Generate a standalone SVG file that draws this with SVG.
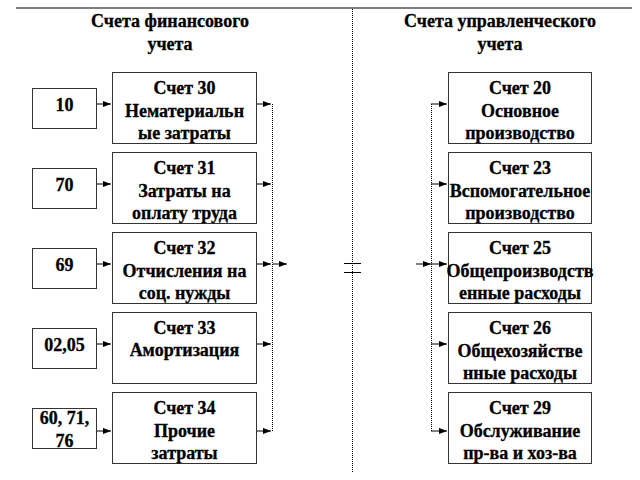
<svg xmlns="http://www.w3.org/2000/svg" width="640" height="480" viewBox="0 0 640 480">
<defs>
<style>
text{font-family:"Liberation Serif",serif;font-weight:bold;font-size:18px;text-anchor:middle;fill:#000;stroke:#000;stroke-width:0.3}
.box{fill:#fff;stroke:#333;stroke-width:1}
.ln{fill:none;stroke:#000;stroke-width:1}
.dot{fill:none;stroke:#000;stroke-width:1;stroke-dasharray:1 1}
</style>
<marker id="ah" viewBox="0 0 8 6" refX="8" refY="3" markerWidth="8" markerHeight="6" markerUnits="userSpaceOnUse" orient="auto">
<path d="M0,0 L8,3 L0,6 z" fill="#000"/>
</marker>
</defs>
<rect width="640" height="480" fill="#fff"/>
<g id="frame">
<line class="ln" x1="16" y1="8" x2="632" y2="8"/>
<line class="dot" x1="352.5" y1="9" x2="352.5" y2="472"/>
<line class="ln" x1="344" y1="263.5" x2="361" y2="263.5"/>
<line class="ln" x1="344" y1="272.5" x2="361" y2="272.5"/>
<text x="170" y="27">Счета финансового</text>
<text x="170" y="50">учета</text>
<text x="500" y="27">Счета управленческого</text>
<text x="500" y="50">учета</text>
</g>
<g id="connectors">
<line class="ln" x1="97" y1="104" x2="111" y2="104" marker-end="url(#ah)"/>
<line class="ln" x1="97" y1="184" x2="111" y2="184" marker-end="url(#ah)"/>
<line class="ln" x1="97" y1="264" x2="111" y2="264" marker-end="url(#ah)"/>
<line class="ln" x1="97" y1="344" x2="111" y2="344" marker-end="url(#ah)"/>
<line class="ln" x1="97" y1="431" x2="111" y2="431" marker-end="url(#ah)"/>
<line class="ln" x1="257" y1="104" x2="271" y2="104" marker-end="url(#ah)"/>
<line class="ln" x1="257" y1="184" x2="271" y2="184" marker-end="url(#ah)"/>
<line class="ln" x1="257" y1="264" x2="271" y2="264" marker-end="url(#ah)"/>
<line class="ln" x1="257" y1="344" x2="271" y2="344" marker-end="url(#ah)"/>
<line class="ln" x1="257" y1="431" x2="271" y2="431" marker-end="url(#ah)"/>
<line class="dot" x1="272.5" y1="104" x2="272.5" y2="431"/>
<line class="ln" x1="273" y1="264" x2="287" y2="264" marker-end="url(#ah)"/>
<line class="ln" x1="416" y1="264" x2="431" y2="264" marker-end="url(#ah)"/>
<line class="dot" x1="431.5" y1="104" x2="431.5" y2="431"/>
<line class="ln" x1="431" y1="104" x2="447" y2="104" marker-end="url(#ah)"/>
<line class="ln" x1="431" y1="184" x2="447" y2="184" marker-end="url(#ah)"/>
<line class="ln" x1="431" y1="264" x2="447" y2="264" marker-end="url(#ah)"/>
<line class="ln" x1="431" y1="344" x2="447" y2="344" marker-end="url(#ah)"/>
<line class="ln" x1="431" y1="431" x2="447" y2="431" marker-end="url(#ah)"/>
</g>
<g id="src10"><rect class="box" x="32.5" y="88.5" width="64" height="40"/><text x="64.5" y="111">10</text></g>
<g id="src70"><rect class="box" x="32.5" y="168.5" width="64" height="40"/><text x="64.5" y="191">70</text></g>
<g id="src69"><rect class="box" x="32.5" y="248.5" width="64" height="40"/><text x="64.5" y="271">69</text></g>
<g id="src0205"><rect class="box" x="32.5" y="328.5" width="64" height="40"/><text x="64.5" y="351">02,05</text></g>
<g id="src607176"><rect class="box" x="32.5" y="408.5" width="64" height="40"/><text x="64.5" y="424">60, 71,</text><text x="64.5" y="447">76</text></g>
<g id="acc30"><rect class="box" x="112.5" y="72.5" width="144" height="71"/><text x="184.5" y="94">Счет 30</text><text x="184.5" y="117">Нематериальн</text><text x="184.5" y="139">ые затраты</text></g>
<g id="acc31"><rect class="box" x="112.5" y="152.5" width="144" height="71"/><text x="184.5" y="174">Счет 31</text><text x="184.5" y="197">Затраты на</text><text x="184.5" y="219">оплату труда</text></g>
<g id="acc32"><rect class="box" x="112.5" y="232.5" width="144" height="71"/><text x="184.5" y="254">Счет 32</text><text x="184.5" y="277">Отчисления на</text><text x="184.5" y="299">соц. нужды</text></g>
<g id="acc33"><rect class="box" x="112.5" y="312.5" width="144" height="71"/><text x="184.5" y="334">Счет 33</text><text x="184.5" y="356">Амортизация</text></g>
<g id="acc34"><rect class="box" x="112.5" y="392.5" width="144" height="71"/><text x="184.5" y="414">Счет 34</text><text x="184.5" y="437">Прочие</text><text x="184.5" y="459">затраты</text></g>
<g id="acc20"><rect class="box" x="448.5" y="72.5" width="143" height="71"/><text x="520" y="94">Счет 20</text><text x="520" y="117">Основное</text><text x="520" y="139">производство</text></g>
<g id="acc23"><rect class="box" x="448.5" y="152.5" width="143" height="71"/><text x="520" y="174">Счет 23</text><text x="520" y="197">Вспомогательное</text><text x="520" y="219">производство</text></g>
<g id="acc25"><rect class="box" x="448.5" y="232.5" width="143" height="71"/><text x="520" y="254">Счет 25</text><text x="520" y="277">Общепроизводств</text><text x="520" y="299">енные расходы</text></g>
<g id="acc26"><rect class="box" x="448.5" y="312.5" width="143" height="71"/><text x="520" y="334">Счет 26</text><text x="520" y="357">Общехозяйстве</text><text x="520" y="379">нные расходы</text></g>
<g id="acc29"><rect class="box" x="448.5" y="392.5" width="143" height="71"/><text x="520" y="414">Счет 29</text><text x="520" y="437">Обслуживание</text><text x="520" y="459">пр-ва и хоз-ва</text></g>
</svg>
